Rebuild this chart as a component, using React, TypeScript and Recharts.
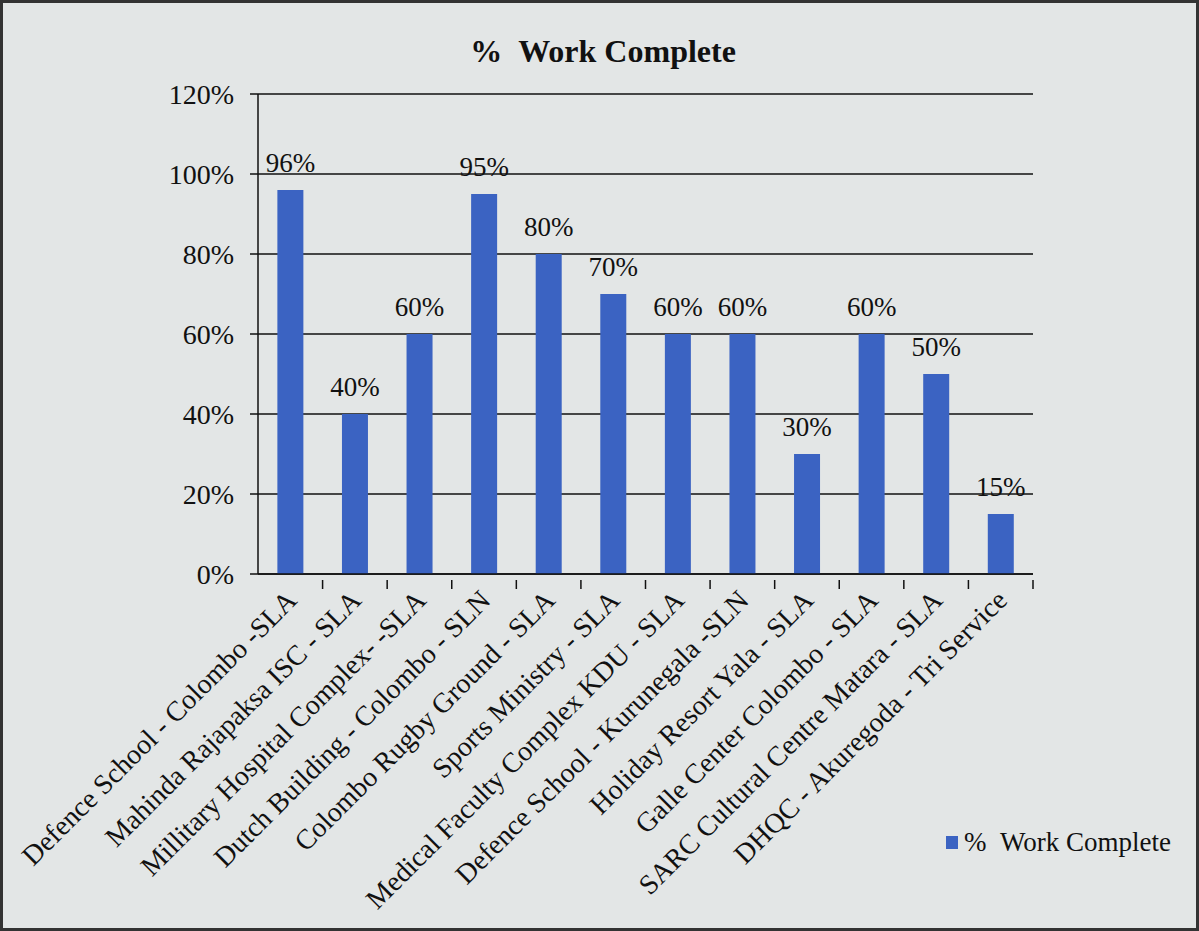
import React from 'react';
import { BarChart, Bar, XAxis, YAxis, CartesianGrid, LabelList } from 'recharts';

const projects = [
    'Defence School - Colombo -SLA',
    'Mahinda Rajapaksa ISC - SLA',
    'Millitary Hospital Complex- -SLA',
    'Dutch Building - Colombo - SLN',
    'Colombo Rugby Ground - SLA',
    'Sports Ministry - SLA',
    'Medical Faculty Complex KDU - SLA',
    'Defence School - Kurunegala -SLN',
    'Holiday Resort Yala - SLA',
    'Galle Center Colombo - SLA',
    'SARC Cultural Centre Matara - SLA',
    'DHQC - Akuregoda - Tri Service',
];
const workComplete = [96, 40, 60, 95, 80, 70, 60, 60, 30, 60, 50, 15];
const yTicks = [0, 20, 40, 60, 80, 100, 120];

const data = projects.map((name, i) => ({ name, value: workComplete[i] }));

const FONT = '"Liberation Serif", "Times New Roman", serif';
const BAR_COLOR = '#3b63c2';
const STEP = 775 / projects.length;

const CategoryTick = (props: any) => {
    const { x, y, payload } = props;
    return (
        <g>
            <line x1={x + STEP / 2} y1={y - 2} x2={x + STEP / 2} y2={y + 7} stroke="#111" strokeWidth={1.5} />
            <text
                x={x + 8}
                y={y + 20}
                textAnchor="end"
                transform={`rotate(-45, ${x + 8}, ${y + 20})`}
                fontSize={28}
                fill="#111"
                fontFamily={FONT}
            >
                {payload.value}
            </text>
        </g>
    );
};

const App: React.FC = () => {
    return (
        <div
            style={{
                position: 'absolute',
                top: 0,
                left: 0,
                width: 1199,
                height: 931,
                background: '#e3e6e6',
                boxSizing: 'border-box',
                border: '3px solid #333',
                overflow: 'hidden',
            }}
        >
            <div
                style={{
                    position: 'absolute',
                    top: 30,
                    left: 0,
                    width: 1200,
                    textAlign: 'center',
                    fontFamily: FONT,
                    fontWeight: 'bold',
                    fontSize: 32,
                    color: '#111',
                }}
            >
                %&nbsp;&nbsp;Work Complete
            </div>
            <div style={{ position: 'absolute', top: -3, left: -3 }}>
                <BarChart
                    width={1199}
                    height={931}
                    data={data}
                    margin={{ top: 94, right: 166, left: 168, bottom: 8 }}
                    barCategoryGap="30%"
                >
                    <CartesianGrid vertical={false} stroke="#111" strokeWidth={1.5} />
                    <XAxis
                        dataKey="name"
                        interval={0}
                        height={349}
                        tick={<CategoryTick />}
                        tickLine={false}
                        axisLine={{ stroke: '#111', strokeWidth: 1.5 }}
                    />
                    <YAxis
                        width={90}
                        domain={[0, 120]}
                        ticks={yTicks}
                        tickFormatter={(v: number) => `${v}%`}
                        tick={{ fontSize: 28, fill: '#111', fontFamily: FONT }}
                        tickLine={{ stroke: '#111', strokeWidth: 1.5 }}
                        tickSize={8}
                        tickMargin={16}
                        axisLine={{ stroke: '#111', strokeWidth: 1.5 }}
                    />
                    <Bar dataKey="value" fill={BAR_COLOR} isAnimationActive={false}>
                        <LabelList
                            dataKey="value"
                            position="top"
                            offset={18}
                            formatter={(v: any) => `${v}%`}
                            style={{ fontSize: 27, fill: '#111', fontFamily: FONT }}
                        />
                    </Bar>
                </BarChart>
            </div>
            <div
                style={{
                    position: 'absolute',
                    left: 943,
                    top: 824,
                    display: 'flex',
                    alignItems: 'center',
                    whiteSpace: 'nowrap',
                    fontFamily: FONT,
                    fontSize: 27,
                    color: '#111',
                }}
            >
                <span style={{ width: 12, height: 13, background: BAR_COLOR, marginRight: 6, display: 'inline-block' }} />
                <span>%&nbsp;&nbsp;Work Complete</span>
            </div>
        </div>
    );
};

export default App;
